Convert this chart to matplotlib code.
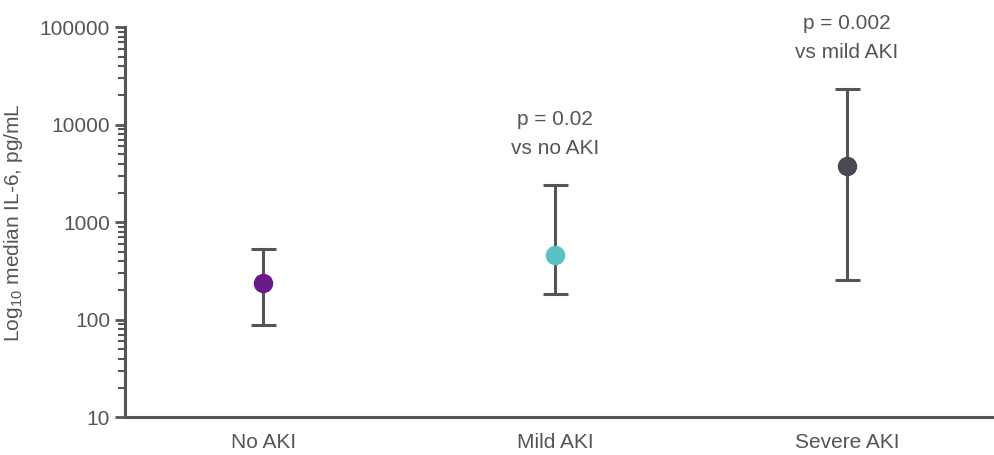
import matplotlib
matplotlib.use("Agg")
import matplotlib.pyplot as plt
import numpy as np

# datos
grupos = ["No AKI", "Mild AKI", "Severe AKI"]
mediana = [237, 459, 3750]
inferior = [88, 183, 254]
superior = [528, 2390, 23100]
colores = ["#6a1b8a", "#5cc1c5", "#4a4a50"]
notas = ["", "p = 0.02\nvs no AKI", "p = 0.002\nvs mild AKI"]

plt.rcParams["font.family"] = ["Liberation Sans", "DejaVu Sans"]
plt.rcParams["mathtext.fontset"] = "custom"
plt.rcParams["mathtext.rm"] = "Liberation Sans"
gris = "#555559"

fig = plt.figure(figsize=(9.95, 4.55), dpi=100)
ax = fig.add_axes([0.126, 0.083, 0.874, 0.857])

x = np.arange(len(grupos))
for i in range(len(grupos)):
    err = [[mediana[i] - inferior[i]], [superior[i] - mediana[i]]]
    ax.errorbar(x[i], mediana[i], yerr=err, fmt="none", ecolor=gris,
                elinewidth=2.2, capsize=9, capthick=2.2, zorder=2)
    ax.plot(x[i], mediana[i], "o", color=colores[i], markersize=13, zorder=3)
    if notas[i]:
        ax.annotate(notas[i], (x[i], superior[i]), xytext=(0, 20),
                    textcoords="offset points", ha="center", va="bottom",
                    fontsize=15, color=gris, linespacing=1.65)

ax.set_yscale("log")
ax.set_ylim(10, 100000)
ax.set_xlim(-0.473, 2.507)
ax.set_xticks(x)
ax.set_xticklabels(grupos)
ax.set_yticks([10, 100, 1000, 10000, 100000])
ax.set_yticklabels(["10", "100", "1000", "10000", "100000"])

for s in ["top", "right"]:
    ax.spines[s].set_visible(False)
for s in ["left", "bottom"]:
    ax.spines[s].set_color(gris)
    ax.spines[s].set_linewidth(2.2)

ax.tick_params(axis="y", which="major", length=7, width=2, color=gris,
               labelsize=15, labelcolor=gris, pad=4)
ax.tick_params(axis="y", which="minor", length=5, width=1.5, color=gris)
ax.tick_params(axis="x", length=0, labelsize=15, labelcolor=gris, pad=11)

ax.set_ylabel("Log$_{\\mathrm{10}}$ median IL-6, pg/mL", fontsize=15, color=gris)
ax.yaxis.set_label_coords(-0.115, 0.5)

fig.savefig("out.png", dpi=100)
